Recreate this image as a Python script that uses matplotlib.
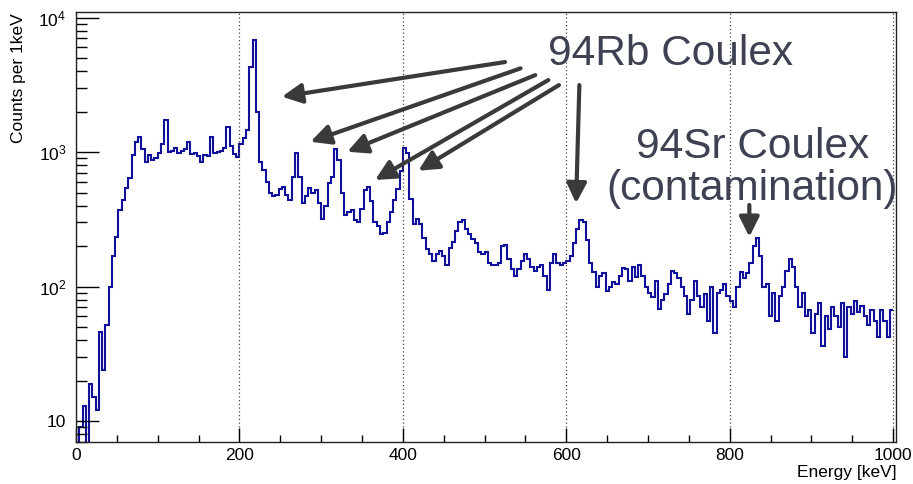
import numpy as np
import matplotlib
matplotlib.use("Agg")
import matplotlib.pyplot as plt
from matplotlib.ticker import MultipleLocator, FixedLocator, FixedFormatter, NullFormatter

plt.rcParams["font.family"] = ["Liberation Sans", "DejaVu Sans"]
plt.rcParams["mathtext.fontset"] = "custom"
plt.rcParams["mathtext.rm"] = "Liberation Sans"

# Gamma-ray energy spectrum, 4 keV bins starting at 0 keV
BIN_WIDTH = 4
counts = [
    1, 9, 13, 1, 19, 15, 12, 46, 24, 52,                               # 0-36
    100, 170, 235, 370, 440, 540, 640, 950, 1180, 1300,                # 40-76
    1050, 850, 950, 870, 900, 980, 1150, 1720, 1000, 1020,             # 80-116
    1070, 980, 1010, 1050, 1180, 970, 980, 930, 840, 950,              # 120-156
    930, 1290, 980, 1000, 1020, 1080, 1530, 1100, 960, 920,            # 160-196
    1150, 1270, 1450, 4300, 6800, 2000, 850, 740, 600, 500,            # 200-236
    470, 480, 530, 550, 480, 440, 650, 980, 650, 420,                  # 240-276
    470, 540, 500, 520, 420, 320, 400, 590, 650, 1050,                 # 280-316
    880, 500, 340, 360, 370, 310, 300, 380, 520, 550,                  # 320-356
    430, 300, 280, 245, 250, 300, 360, 440, 530, 720,                  # 360-396
    1080, 980, 450, 290, 320, 290, 230, 190, 175, 155,                 # 400-436
    175, 185, 170, 145, 195, 215, 260, 300, 315, 270,                  # 440-476
    245, 225, 210, 180, 175, 180, 150, 145, 145, 150,                  # 480-516
    200, 205, 160, 135, 120, 135, 155, 175, 160, 140,                  # 520-556
    130, 140, 145, 120, 95, 150, 175, 150, 145, 150,                   # 560-596
    155, 168, 210, 270, 315, 300, 220, 150, 128, 100,                  # 600-636
    120, 125, 92, 100, 108, 105, 120, 137, 135, 110,                   # 640-676
    140, 118, 145, 120, 100, 90, 84, 110, 68, 80,                      # 680-716
    88, 105, 130, 125, 115, 100, 85, 62, 80, 110,                      # 720-756
    85, 70, 88, 55, 100, 45, 90, 95, 105, 85,                          # 760-796
    78, 70, 99, 128, 115, 125, 150, 200, 230, 170,                     # 800-836
    100, 105, 60, 90, 55, 85, 100, 130, 160, 140,                      # 840-876
    100, 70, 90, 60, 67, 45, 63, 75, 36, 60,                           # 880-916
    48, 70, 60, 50, 75, 30, 70, 62, 78, 65,                            # 920-956
    72, 60, 52, 67, 55, 42, 67, 55, 42, 67,                            # 960-996
]
edges = np.arange(len(counts) + 1) * BIN_WIDTH

x_ticks = [0, 200, 400, 600, 800, 1000]
x_tick_labels = ["0", "200", "400", "600", "800", "1000"]
y_ticks = [10, 100, 1000, 10000]
y_tick_labels = ["10", r"$\mathregular{10^{2}}$", r"$\mathregular{10^{3}}$", r"$\mathregular{10^{4}}$"]

# Annotation arrows: (tail, head) in (keV, counts)
rb_arrows = [
    ((525, 4670), (252, 2580)),
    ((544, 4190), (287, 1193)),
    ((562, 3733), (332, 1005)),
    ((578, 3428), (366, 620)),
    ((591, 3147), (419, 726)),
    ((616, 3147), (612, 416)),
]
sr_arrow = ((824, 404), (824, 234))

TEXT_COLOR = "#3d4152"
ARROW_COLOR = "#3a3a3a"
LINE_COLOR = "#10109a"

fig = plt.figure(figsize=(9.13, 4.84), dpi=100)
ax = fig.add_axes([76 / 913, 42 / 484, 820 / 913, 430 / 484])

ax.stairs(counts, edges, baseline=None, color=LINE_COLOR, lw=1.5)

ax.set_yscale("log")
ax.set_xlim(0, 1003.5)
ax.set_ylim(6.98, 11000)

ax.xaxis.set_major_locator(FixedLocator(x_ticks))
ax.xaxis.set_major_formatter(FixedFormatter(x_tick_labels))
ax.xaxis.set_minor_locator(MultipleLocator(50))
ax.yaxis.set_major_locator(FixedLocator(y_ticks))
ax.yaxis.set_major_formatter(FixedFormatter(y_tick_labels))
minor_y = [m * 10 ** e for e in range(0, 4) for m in range(2, 10)]
ax.yaxis.set_minor_locator(FixedLocator(minor_y))
ax.yaxis.set_minor_formatter(NullFormatter())

ax.tick_params(axis="x", which="major", direction="in", length=10, width=1,
               labelsize=12.5, pad=4, top=False)
ax.tick_params(axis="x", which="minor", direction="in", length=5, width=1, top=False)
ax.tick_params(axis="y", which="major", direction="in", length=16.5, width=1,
               labelsize=12.5, pad=7, right=False)
ax.tick_params(axis="y", which="minor", direction="in", length=8, width=1, right=False)

ax.grid(axis="x", which="major", ls=(0, (1, 2)), color="#444444", lw=0.9)
for s in ax.spines.values():
    s.set_linewidth(1)
    s.set_color("#222222")

fig.text(18 / 913, 1 - 13 / 484, "Counts per 1keV", rotation=90, ha="center",
         va="top", fontsize=12.5)
fig.text(897 / 913, 12 / 484, "Energy [keV]", ha="right", va="center", fontsize=12.5)

arrow_props = dict(arrowstyle="-|>,head_length=0.6,head_width=0.3",
                   color=ARROW_COLOR, lw=3, shrinkA=0, shrinkB=0, mutation_scale=20)
for tail, head in rb_arrows + [sr_arrow]:
    ax.annotate("", xy=head, xytext=tail, arrowprops=arrow_props)

ax.text(577.5, 4436, "94Rb Coulex", fontsize=30.5, color=TEXT_COLOR,
        ha="left", va="baseline")
ax.text(828, 902, "94Sr Coulex", fontsize=30.5, color=TEXT_COLOR,
        ha="center", va="baseline", clip_on=False)
ax.text(827, 440, "(contamination)", fontsize=30.5, color=TEXT_COLOR,
        ha="center", va="baseline", clip_on=False)

fig.savefig("out.png", dpi=100)
